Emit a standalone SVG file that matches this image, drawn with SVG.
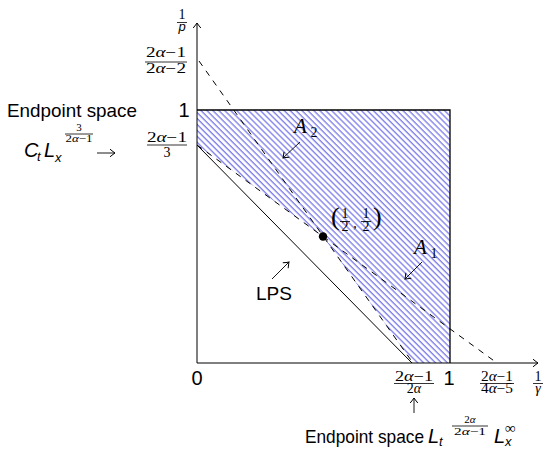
<svg xmlns="http://www.w3.org/2000/svg" width="545" height="449" viewBox="0 0 545 449">
<style>
.t{font-family:"Liberation Sans",Arial,sans-serif;font-size:19px;fill:#000}
.d{font-family:"Liberation Sans",Arial,sans-serif;font-size:20px;text-anchor:middle}
.f{font-family:"Liberation Serif","Times New Roman",serif;font-size:14px;text-anchor:middle}
.s{font-family:"Liberation Serif","Times New Roman",serif;font-size:11px;text-anchor:middle}
.g{font-style:italic}
.mi{font-family:"Liberation Sans",Arial,sans-serif;font-style:italic;font-size:20px}
.sb{font-family:"Liberation Sans",Arial,sans-serif;font-style:italic;font-size:13px}
.cal{font-family:"Liberation Serif","Times New Roman",serif;font-style:italic;font-size:21px}
.bar{stroke:#000;stroke-width:0.8}
.ax{stroke:#000;stroke-width:1;fill:none}
.dash{stroke:#000;stroke-width:1;stroke-dasharray:6 6;fill:none}
.arr{stroke:#000;stroke-width:0.9;fill:none;marker-end:url(#tip)}
</style>
<defs>
<pattern id="hatch" patternUnits="userSpaceOnUse" width="4.2" height="10" patternTransform="rotate(-45)">
<line x1="1" y1="0" x2="1" y2="10" stroke="#8080ee" stroke-width="1.35"/>
</pattern>
<marker id="tip" markerUnits="userSpaceOnUse" viewBox="-6 -5 7 10" refX="0" refY="0" markerWidth="7" markerHeight="10" orient="auto">
<path d="M -5 -3.8 Q -1.5 -1 0 0 Q -1.5 1 -5 3.8" fill="none" stroke="#000" stroke-width="1"/>
</marker>
</defs>

<g id="region">
<polygon points="197,110 450,110 450,363 413,363 323,236.5 197,145" fill="url(#hatch)"/>
<path d="M197 110 H450 V363" fill="none" stroke="#000" stroke-width="1.3"/>
</g>

<g id="connectors">
<line class="ax" x1="197" y1="363" x2="197" y2="23" marker-end="url(#tip)"/>
<line class="ax" x1="197" y1="363" x2="538" y2="363" marker-end="url(#tip)"/>
<line x1="197" y1="145" x2="412" y2="363" stroke="#000" stroke-width="1"/>
<line class="dash" x1="199" y1="61" x2="413" y2="363"/>
<line class="dash" x1="197" y1="145" x2="497" y2="363"/>
<line class="arr" x1="272" y1="279" x2="289" y2="262"/>
<line class="arr" x1="300" y1="142" x2="283" y2="158"/>
<line class="arr" x1="422" y1="262" x2="405" y2="279"/>
<line class="arr" x1="97" y1="153" x2="115" y2="153"/>
<line class="arr" x1="414" y1="413" x2="414" y2="398"/>
</g>

<g id="point">
<circle cx="323" cy="236.5" r="4.2" fill="#000"/>
<text x="331" y="225" font-family="Liberation Serif,serif" font-size="26">(</text>
<text class="f" x="345" y="218" font-size="15">1</text>
<line class="bar" x1="340" y1="221.5" x2="350" y2="221.5"/>
<text class="f" x="345" y="231" font-size="15">2</text>
<text class="f" x="355" y="228">,</text>
<text class="f" x="366" y="218" font-size="15">1</text>
<line class="bar" x1="361" y1="221.5" x2="371" y2="221.5"/>
<text class="f" x="366" y="231" font-size="15">2</text>
<text x="373" y="225" font-family="Liberation Serif,serif" font-size="26">)</text>
</g>

<g id="labelA2">
<text class="cal" x="294" y="133">A</text>
<text class="f" x="314" y="137" font-size="13">2</text>
</g>
<g id="labelA1">
<text class="cal" x="414" y="254">A</text>
<text class="f" x="434" y="258" font-size="13">1</text>
</g>
<g id="labelLPS">
<text class="t" x="256" y="300" textLength="36" lengthAdjust="spacingAndGlyphs">LPS</text>
</g>

<g id="yticks">
<text class="f" x="182" y="19">1</text>
<line class="bar" x1="177" y1="22.5" x2="187" y2="22.5"/>
<text class="sb" x="182" y="31" text-anchor="middle">p</text>

<text class="f" x="166" y="57" textLength="40" lengthAdjust="spacingAndGlyphs">2<tspan class="g">α</tspan>−1</text>
<line class="bar" x1="145" y1="62" x2="187" y2="62"/>
<text class="f" x="166" y="73" textLength="40" lengthAdjust="spacingAndGlyphs">2<tspan class="g">α</tspan>−2</text>

<text class="d" x="184" y="117">1</text>

<text class="f" x="167" y="142" textLength="40" lengthAdjust="spacingAndGlyphs">2<tspan class="g">α</tspan>−1</text>
<line class="bar" x1="147" y1="145" x2="187" y2="145"/>
<text class="f" x="167" y="157">3</text>
</g>

<g id="leftlabel">
<text class="t" x="7" y="117" textLength="130" lengthAdjust="spacingAndGlyphs">Endpoint space</text>
<text class="mi" x="24" y="157">C</text>
<text class="sb" x="37" y="161">t</text>
<text class="mi" x="44" y="157">L</text>
<text class="sb" x="55" y="162">x</text>
<text class="s" x="79" y="131">3</text>
<line class="bar" x1="65" y1="134" x2="93" y2="134"/>
<text class="s" x="79" y="142" textLength="27" lengthAdjust="spacingAndGlyphs">2<tspan class="g">α</tspan>−1</text>
</g>

<g id="xticks">
<text class="d" x="197" y="385">0</text>
<text class="f" x="414" y="381" textLength="38" lengthAdjust="spacingAndGlyphs">2<tspan class="g">α</tspan>−1</text>
<line class="bar" x1="394" y1="383.5" x2="434" y2="383.5"/>
<text class="f" x="414" y="393">2<tspan class="g">α</tspan></text>
<text class="d" x="449" y="385">1</text>
<text class="f" x="497" y="381" textLength="32" lengthAdjust="spacingAndGlyphs">2<tspan class="g">α</tspan>−1</text>
<line class="bar" x1="480" y1="383.5" x2="514" y2="383.5"/>
<text class="f" x="497" y="393" textLength="32" lengthAdjust="spacingAndGlyphs">4<tspan class="g">α</tspan>−5</text>
<text class="f" x="538" y="381">1</text>
<line class="bar" x1="533" y1="383.5" x2="543" y2="383.5"/>
<text class="f g" x="538" y="393">γ</text>
</g>

<g id="bottomlabel">
<text class="t" x="305" y="443" textLength="119" lengthAdjust="spacingAndGlyphs">Endpoint space</text>
<text class="mi" x="428" y="443">L</text>
<text class="sb" x="439" y="446" font-size="12">t</text>
<text class="s" x="470" y="423" font-size="12">2<tspan class="g">α</tspan></text>
<line class="bar" x1="452" y1="426" x2="488" y2="426"/>
<text class="s" x="470" y="435" font-size="12" textLength="32" lengthAdjust="spacingAndGlyphs">2<tspan class="g">α</tspan>−1</text>
<text class="mi" x="494" y="443">L</text>
<text class="sb" x="505" y="446" font-size="12">x</text>
<text x="505" y="433" font-family="Liberation Serif,serif" font-size="15">∞</text>
</g>
</svg>
